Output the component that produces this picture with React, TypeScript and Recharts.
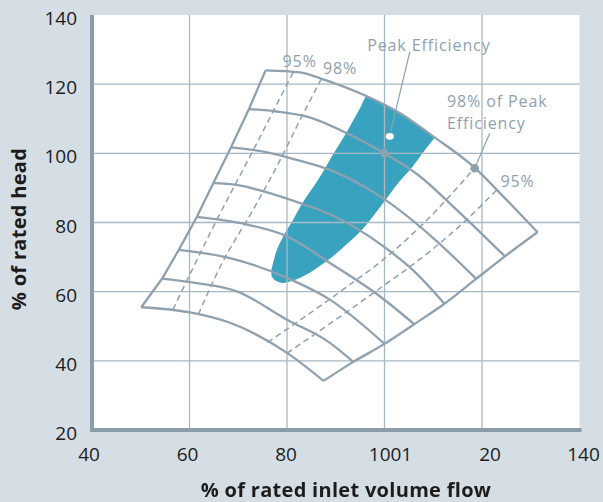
import React from 'react';
import { ComposedChart, Line, Area, Scatter, XAxis, YAxis, CartesianGrid, ReferenceLine, Label } from 'recharts';

// axis ticks
const xTicks = [40, 60, 80, 100, 120, 140];
const xTickLabels = ['40', '60', '80', '1001', '20', '140'];
const yTicks = [20, 40, 60, 80, 100, 120, 140];
const xGrid = [60, 80, 100, 120];
const yGrid = [40, 60, 80, 100, 120];

// map boundaries (flow %, head %)
const surgeLine: [number, number][] = [[50.1, 55.5], [54.4, 63.8], [57.8, 72.1], [61.5, 81.6], [64.9, 91.4], [68.5, 101.7], [72.2, 112.8], [75.6, 124.0]];
const chokeLine: [number, number][] = [[87.5, 34.2], [93.6, 39.7], [100.0, 44.9], [106.1, 50.6], [112.3, 56.5], [118.8, 63.7], [124.7, 70.2], [131.4, 77.2]];

// speed lines, top to bottom
const speed1: [number, number][] = [[75.6, 124.0], [82.7, 123.4], [86.8, 121.7], [96.4, 116.5], [103.2, 111.6], [110.0, 104.9], [118.2, 96.2], [125.0, 86.6], [131.4, 77.2]];
const speed2: [number, number][] = [[72.2, 112.8], [77.9, 112.1], [84.1, 110.6], [92.3, 105.8], [100.0, 100.0], [107.3, 93.3], [114.1, 84.6], [124.7, 70.2]];
const speed3: [number, number][] = [[68.5, 101.7], [75.2, 100.5], [82.0, 98.1], [88.8, 95.2], [99.8, 86.9], [110.0, 75.5], [118.8, 63.7]];
const speed4: [number, number][] = [[64.9, 91.4], [69.7, 90.9], [75.2, 89.0], [82.7, 85.6], [88.8, 82.4], [99.8, 73.1], [106.0, 66.0], [112.3, 56.5]];
const speed5: [number, number][] = [[61.5, 81.6], [71.8, 79.4], [80.0, 76.0], [88.8, 68.3], [99.1, 58.6], [106.1, 50.6]];
const speed6: [number, number][] = [[57.8, 72.1], [68.3, 69.7], [80.0, 64.0], [88.8, 57.7], [100.0, 44.9]];
const speed7: [number, number][] = [[54.4, 63.8], [61.5, 62.5], [69.7, 60.1], [80.0, 51.9], [88.8, 45.2], [93.6, 39.7]];
const speed8: [number, number][] = [[50.1, 55.5], [60.1, 54.0], [68.3, 51.0], [80.0, 42.3], [87.5, 34.2]];
const speedLines = [speed1, speed2, speed3, speed4, speed5, speed6, speed7, speed8];

// efficiency iso-lines (dashed)
const eff95Left: [number, number][] = [[56.6, 54.8], [64.9, 78.8], [73.1, 101.0], [81.3, 123.5]];
const eff98Left: [number, number][] = [[61.8, 53.4], [66.3, 67.2], [73.5, 84.8], [78.6, 98.1], [82.7, 109.7], [87.1, 121.7]];
const eff98Right: [number, number][] = [[76.0, 45.3], [90.9, 60.0], [101.5, 71.3], [107.9, 79.6], [118.5, 95.7]];
const eff95Right: [number, number][] = [[80.0, 42.2], [98.1, 60.0], [109.7, 72.1], [115.9, 79.6], [123.1, 89.5]];
const effLines = [eff95Left, eff98Left, eff98Right, eff95Right];

// peak efficiency island: flow, lower head, upper head
const island: [number, number, number][] = [
  [76.8, 64.6, 66.4], [77.6, 63.2, 70.7], [79.2, 62.5, 75.9], [81.25, 63.2, 80.8], [82.7, 64.0, 84.5],
  [86.8, 67.5, 93.3], [89.4, 70.2, 99.6], [91.9, 73.3, 105.3], [95.0, 77.3, 113.1], [96.4, 79.6, 116.5],
  [99.7, 85.6, 114.1], [103.2, 92.1, 111.6], [105.2, 95.2, 109.6], [108.3, 101.0, 106.6], [110.3, 104.5, 104.5],
];

// callouts
const leaderPeak: [number, number][] = [[101.3, 106.5], [105.2, 129.4]];
const leader98: [number, number][] = [[118.5, 95.7], [121.6, 105.8]];
const ratedPoint = [{ x: 100, y: 100 }];
const peakPoint = [{ x: 101.1, y: 104.9 }];
const marker98 = [{ x: 118.5, y: 95.7 }];
const notes = [
  { x: 82.6, y: 126.7, text: '95%', anchor: 'middle' },
  { x: 90.9, y: 124.7, text: '98%', anchor: 'middle' },
  { x: 109.1, y: 131.2, text: 'Peak Efficiency', anchor: 'middle' },
  { x: 112.8, y: 115.2, text: '98% of Peak', anchor: 'start' },
  { x: 112.8, y: 108.8, text: 'Efficiency', anchor: 'start' },
  { x: 127.3, y: 92.1, text: '95%', anchor: 'middle' },
];

const BG = '#d5dee5';
const AXIS = '#8b9daa';
const GRID = '#a8b8c3';
const CURVE = '#8fa1ae';
const BLUE = '#39a3bf';
const INK = '#1c1c1c';
const FONT = '"Open Sans", sans-serif';

// the printed 100/120 labels sit a little right of their ticks
const xTickNudge = [-3, -2, -1, 6, 8, 4];

const pts = (arr: [number, number][]) => arr.map(([x, y]) => ({ x, y }));

const XTick = (props: any) => {
  const { x, y, payload } = props;
  const i = xTicks.indexOf(payload.value);
  return (
    <text x={x + (xTickNudge[i] || 0)} y={y} textAnchor="middle" dominantBaseline="central" fill={INK} fontSize={19} fontFamily={FONT}>
      {xTickLabels[i]}
    </text>
  );
};

const YTick = (props: any) => {
  const { x, y, payload } = props;
  return (
    <text x={x} y={y + 3} textAnchor="end" dominantBaseline="central" fill={INK} fontSize={19} fontFamily={FONT}>
      {payload.value}
    </text>
  );
};

const Diamond = (p: any) => (
  <polygon points={`${p.cx},${p.cy - 6.3} ${p.cx + 5},${p.cy} ${p.cx},${p.cy + 6.3} ${p.cx - 5},${p.cy}`} fill={CURVE} />
);
const WhiteDot = (p: any) => <ellipse cx={p.cx} cy={p.cy} rx={4} ry={3.3} fill="#fff" />;
const GreyDot = (p: any) => <circle cx={p.cx} cy={p.cy} r={4.3} fill={CURVE} />;
const Note = (p: any) => (
  <text x={p.cx} y={p.cy} textAnchor={p.payload.anchor} dominantBaseline="central" fill={CURVE} fontSize={16} letterSpacing={0.9} fontFamily={FONT}>
    {p.payload.text}
  </text>
);

export default function App() {
  return (
    <div style={{ position: 'fixed', left: 0, top: 0, width: 603, height: 502, background: BG }}>
      <ComposedChart width={603} height={502} margin={{ top: 15, right: 23.5, bottom: 0, left: 0 }}>
        <CartesianGrid horizontal={false} vertical={false} fill="#fff" />
        <XAxis
          type="number"
          dataKey="x"
          domain={[40, 140]}
          ticks={xTicks}
          interval={0}
          height={72}
          tickSize={0}
          tickMargin={24}
          tickLine={false}
          axisLine={{ stroke: AXIS, strokeWidth: 4, strokeLinecap: 'square' }}
          tick={<XTick />}
          allowDataOverflow
        />
        <YAxis
          type="number"
          domain={[20, 140]}
          ticks={yTicks}
          interval={0}
          width={92}
          tickSize={0}
          tickMargin={15}
          tickLine={false}
          axisLine={{ stroke: AXIS, strokeWidth: 4 }}
          tick={<YTick />}
          allowDataOverflow
        >
          <Label
            content={() => (
              <text x={18} y={229} transform="rotate(-90 18 229)" textAnchor="middle" dominantBaseline="central" fill={INK} fontSize={20} letterSpacing={0.3} fontWeight={700} fontFamily={FONT}>
                % of rated head
              </text>
            )}
          />
        </YAxis>

        <Area
          data={island.map(([x, lo, hi]) => ({ x, r: [lo, hi] }))}
          dataKey="r"
          type="monotone"
          fill={BLUE}
          fillOpacity={1}
          stroke="none"
          isAnimationActive={false}
        />

        {xGrid.map((v) => (
          <ReferenceLine key={`gx${v}`} x={v} stroke={GRID} strokeWidth={1.3} />
        ))}
        {yGrid.map((v) => (
          <ReferenceLine key={`gy${v}`} y={v} stroke={GRID} strokeWidth={1.3} />
        ))}

        {effLines.map((l, i) => (
          <Line key={`e${i}`} data={pts(l)} dataKey="y" type="monotone" stroke={CURVE} strokeWidth={1.5} strokeDasharray="6 4" dot={false} activeDot={false} isAnimationActive={false} />
        ))}
        {speedLines.map((l, i) => (
          <Line key={`s${i}`} data={pts(l)} dataKey="y" type="monotone" stroke={CURVE} strokeWidth={2.3} dot={false} activeDot={false} isAnimationActive={false} />
        ))}
        <Line data={pts(surgeLine)} dataKey="y" type="linear" stroke={CURVE} strokeWidth={2.3} dot={false} activeDot={false} isAnimationActive={false} />
        <Line data={pts(chokeLine)} dataKey="y" type="monotone" stroke={CURVE} strokeWidth={2.3} dot={false} activeDot={false} isAnimationActive={false} />
        <Line data={pts(leaderPeak)} dataKey="y" type="linear" stroke={CURVE} strokeWidth={1.2} dot={false} activeDot={false} isAnimationActive={false} />
        <Line data={pts(leader98)} dataKey="y" type="linear" stroke={CURVE} strokeWidth={1.2} dot={false} activeDot={false} isAnimationActive={false} />

        <Scatter data={ratedPoint} dataKey="y" shape={Diamond} isAnimationActive={false} />
        <Scatter data={peakPoint} dataKey="y" shape={WhiteDot} isAnimationActive={false} />
        <Scatter data={marker98} dataKey="y" shape={GreyDot} isAnimationActive={false} />
        <Scatter data={notes} dataKey="y" shape={Note} isAnimationActive={false} />
      </ComposedChart>
      <div
        style={{
          position: 'absolute',
          left: 146,
          width: 400,
          top: 478,
          lineHeight: '24px',
          textAlign: 'center',
          color: INK,
          fontFamily: FONT,
          fontWeight: 700,
          fontSize: 20,
          letterSpacing: 0.3,
          whiteSpace: 'nowrap',
        }}
      >
        % of rated inlet volume flow
      </div>
    </div>
  );
}
